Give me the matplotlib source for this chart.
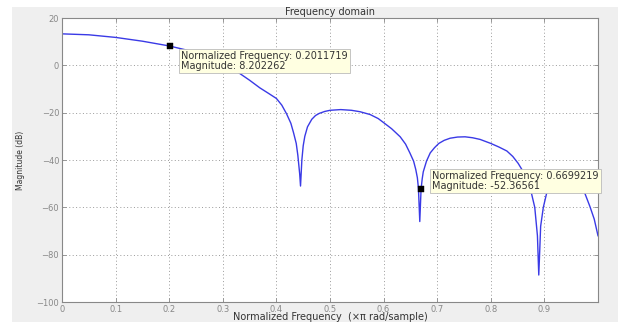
import matplotlib
matplotlib.use("Agg")
import matplotlib.pyplot as plt
from matplotlib.patches import Rectangle

freq = [0, 0.05, 0.1, 0.15, 0.2, 0.25, 0.3, 0.316, 0.332, 0.35, 0.369, 0.385, 0.4, 0.41, 0.419,
        0.427, 0.432, 0.437, 0.44, 0.4435, 0.445, 0.4475, 0.45, 0.453, 0.458, 0.466, 0.473, 0.48,
        0.49, 0.5, 0.52, 0.54, 0.556, 0.575, 0.59, 0.6, 0.615, 0.631, 0.641, 0.649, 0.656, 0.66,
        0.663, 0.665, 0.6675, 0.6699, 0.672, 0.674, 0.68, 0.687, 0.695, 0.703, 0.713, 0.724, 0.738,
        0.752, 0.766, 0.78, 0.8, 0.815, 0.83, 0.841, 0.851, 0.862, 0.873, 0.882, 0.887, 0.8895,
        0.891, 0.893, 0.898, 0.907, 0.915, 0.925, 0.935, 0.945, 0.955, 0.9696, 0.985, 0.993, 1.0]
mag_db = [13.3, 12.9, 11.8, 10.2, 8.2, 5.5, 1.5, -0.7, -3.5, -6.3, -9.5, -11.8, -14, -16.8, -20.5,
          -24.5, -28.5, -33, -38, -46, -51, -40, -34, -30, -26, -22.8, -21.2, -20.3,
          -19.5, -19, -18.7, -19, -19.6, -20.8, -22.5, -24.2, -26.8, -30.2, -33.3, -37, -40.5, -44,
          -47.5, -52, -66, -52.4, -48, -45, -40.5, -37, -34.8, -33, -31.7, -30.8, -30.3,
          -30.2, -30.6, -31.3, -33, -34.5, -36.2, -38.5, -41.4, -45.5, -51.3, -60, -72, -88.6,
          -80, -68, -60, -51.3, -47.8, -45.5, -44.5, -44.8, -46.3, -50.6, -59.7, -65, -72]

tip_freqs = [0.2011719, 0.6699219]
tip_mags = [8.202262, -52.36561]
tip_labels = ["Normalized Frequency: 0.2011719\nMagnitude: 8.202262",
              "Normalized Frequency: 0.6699219\nMagnitude: -52.36561"]

xticks = [0, 0.1, 0.2, 0.3, 0.4, 0.5, 0.6, 0.7, 0.8, 0.9]
yticks = [-100, -80, -60, -40, -20, 0, 20]

W, H = 626, 322
fig = plt.figure(figsize=(W / 100, H / 100), dpi=100, facecolor="white")
fig.patches.append(Rectangle((12 / W, 0), 606 / W, 315 / H, transform=fig.transFigure,
                             facecolor="#efefef", edgecolor="none", zorder=-10))

ax = fig.add_axes([62 / W, 1 - 302 / H, 536 / W, 284 / H])
ax.set_facecolor("white")
ax.plot(freq, mag_db, color="#3a3ae6", lw=1.0)
ax.set_xlim(0, 1)
ax.set_ylim(-100, 20)
ax.set_xticks(xticks)
ax.set_xticklabels([f"{t:g}" for t in xticks])
ax.set_yticks(yticks)
ax.tick_params(direction="in", length=3, width=0.6, colors="#888888", labelsize=6,
               top=True, right=True, pad=2)
for s in ax.spines.values():
    s.set_color("#888888")
    s.set_linewidth(0.8)
ax.grid(True, color="#9a9a9a", lw=0.7, linestyle=(0, (1, 2.5)))

ax.set_title("Frequency domain", fontsize=7, color="#333333", pad=2)
ax.set_xlabel("Normalized Frequency  (\u00d7\u03c0 rad/sample)", fontsize=7, color="#333333", labelpad=-1)
ax.set_ylabel("Magnitude (dB)", fontsize=5.5, color="#333333", labelpad=8)

offsets = [(8, -11), (8, 6)]
for fx, my, lab, off in zip(tip_freqs, tip_mags, tip_labels, offsets):
    ax.plot([fx], [my], marker="s", ms=4.5, color="black", markeredgewidth=0.3)
    ax.annotate(lab, xy=(fx, my), xytext=off, textcoords="offset points",
                fontsize=7, color="#333333", ha="left", va="center", linespacing=0.95,
                bbox=dict(boxstyle="square,pad=0.22", fc="#ffffe1", ec="#bbbbbb", lw=0.6),
                annotation_clip=False, zorder=5)

fig.savefig("out.png", dpi=100, facecolor=fig.get_facecolor())
